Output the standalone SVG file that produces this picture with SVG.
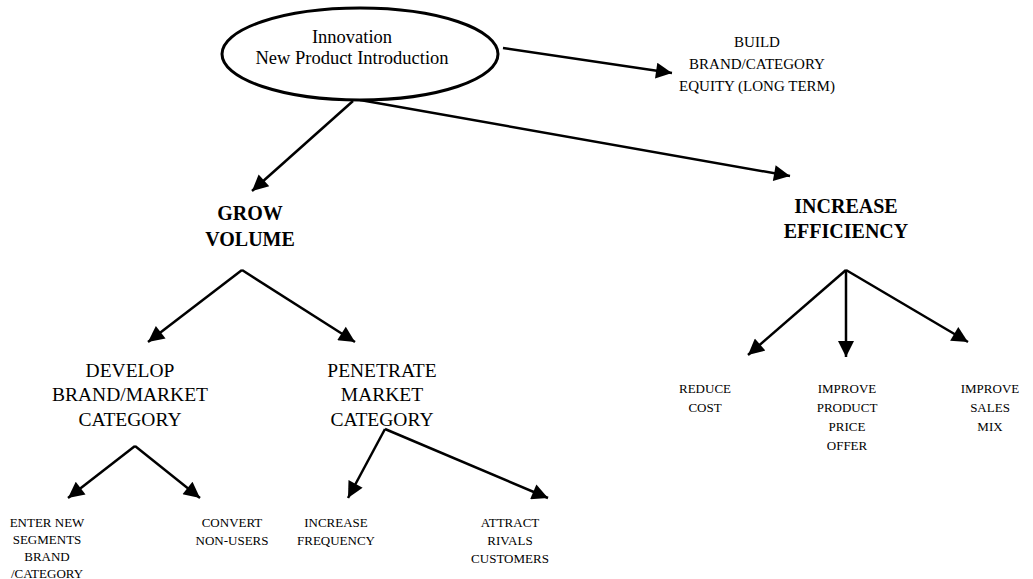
<svg xmlns="http://www.w3.org/2000/svg" width="1033" height="579" viewBox="0 0 1033 579">
  <style>
    text { font-family: "Liberation Serif", "Times New Roman", serif; fill: #000; text-anchor: middle; }
    .t18 { font-size: 18.5px; }
    .t15 { font-size: 15px; }
    .t19 { font-size: 19.5px; }
    .t13 { font-size: 13px; }
    .b20 { font-size: 20px; font-weight: bold; }
    .edge { stroke: #000; stroke-width: 2.5; fill: none; marker-end: url(#head); }
  </style>
  <defs>
    <marker id="head" markerWidth="10" markerHeight="8" refX="9" refY="4" orient="auto" markerUnits="userSpaceOnUse" viewBox="0 0 10 8">
      <path d="M0,0 L10,4 L0,8 Z" fill="#000"/>
    </marker>
    <marker id="arrow" viewBox="0 0 10 10" refX="10" refY="5" markerWidth="20" markerHeight="16" markerUnits="userSpaceOnUse" orient="auto">
      <path d="M0,0 L10,5 L0,10 Z" fill="#000"/>
    </marker>
  </defs>

  <g id="connectors" stroke="#000" stroke-width="2.5" fill="none">
    <line x1="503" y1="48" x2="672" y2="73" marker-end="url(#arrow)"/>
    <line x1="353" y1="101" x2="252" y2="191" marker-end="url(#arrow)"/>
    <line x1="360" y1="100" x2="790" y2="176" marker-end="url(#arrow)"/>
    <line x1="846" y1="270" x2="748" y2="355" marker-end="url(#arrow)"/>
    <line x1="846" y1="270" x2="846" y2="357" marker-end="url(#arrow)"/>
    <line x1="846" y1="270" x2="968" y2="342" marker-end="url(#arrow)"/>
    <line x1="242" y1="270" x2="148" y2="342" marker-end="url(#arrow)"/>
    <line x1="242" y1="270" x2="355" y2="342" marker-end="url(#arrow)"/>
    <line x1="135" y1="446" x2="68" y2="498" marker-end="url(#arrow)"/>
    <line x1="135" y1="446" x2="200" y2="498" marker-end="url(#arrow)"/>
    <line x1="385" y1="429" x2="348" y2="498" marker-end="url(#arrow)"/>
    <line x1="385" y1="429" x2="548" y2="498" marker-end="url(#arrow)"/>
  </g>

  <g id="innovation">
    <ellipse cx="360" cy="54" rx="138" ry="46" fill="#fff" stroke="#000" stroke-width="3"/>
    <text class="t18" x="352" y="43">Innovation</text>
    <text class="t18" x="352" y="64">New Product Introduction</text>
  </g>

  <g id="build-equity">
    <text class="t15" x="757" y="47">BUILD</text>
    <text class="t15" x="757" y="69">BRAND/CATEGORY</text>
    <text class="t15" x="757" y="91">EQUITY (LONG TERM)</text>
  </g>

  <g id="grow-volume">
    <text class="b20" x="250" y="220">GROW</text>
    <text class="b20" x="250" y="246">VOLUME</text>
  </g>

  <g id="increase-efficiency">
    <text class="b20" x="846" y="213">INCREASE</text>
    <text class="b20" x="846" y="238">EFFICIENCY</text>
  </g>

  <g id="develop">
    <text class="t19" x="130" y="377">DEVELOP</text>
    <text class="t19" x="130" y="401">BRAND/MARKET</text>
    <text class="t19" x="130" y="426">CATEGORY</text>
  </g>

  <g id="penetrate">
    <text class="t19" x="382" y="377">PENETRATE</text>
    <text class="t19" x="382" y="401">MARKET</text>
    <text class="t19" x="382" y="426">CATEGORY</text>
  </g>

  <g id="enter-new-segments">
    <text class="t13" x="47" y="527">ENTER NEW</text>
    <text class="t13" x="47" y="544">SEGMENTS</text>
    <text class="t13" x="47" y="561">BRAND</text>
    <text class="t13" x="47" y="578">/CATEGORY</text>
  </g>

  <g id="convert-non-users">
    <text class="t13" x="232" y="527">CONVERT</text>
    <text class="t13" x="232" y="545">NON-USERS</text>
  </g>

  <g id="increase-frequency">
    <text class="t13" x="336" y="527">INCREASE</text>
    <text class="t13" x="336" y="545">FREQUENCY</text>
  </g>

  <g id="attract-rivals">
    <text class="t13" x="510" y="527">ATTRACT</text>
    <text class="t13" x="510" y="545">RIVALS</text>
    <text class="t13" x="510" y="563">CUSTOMERS</text>
  </g>

  <g id="reduce-cost">
    <text class="t13" x="705" y="393">REDUCE</text>
    <text class="t13" x="705" y="412">COST</text>
  </g>

  <g id="improve-price">
    <text class="t13" x="847" y="393">IMPROVE</text>
    <text class="t13" x="847" y="412">PRODUCT</text>
    <text class="t13" x="847" y="431">PRICE</text>
    <text class="t13" x="847" y="450">OFFER</text>
  </g>

  <g id="improve-mix">
    <text class="t13" x="990" y="393">IMPROVE</text>
    <text class="t13" x="990" y="412">SALES</text>
    <text class="t13" x="990" y="431">MIX</text>
  </g>
</svg>
